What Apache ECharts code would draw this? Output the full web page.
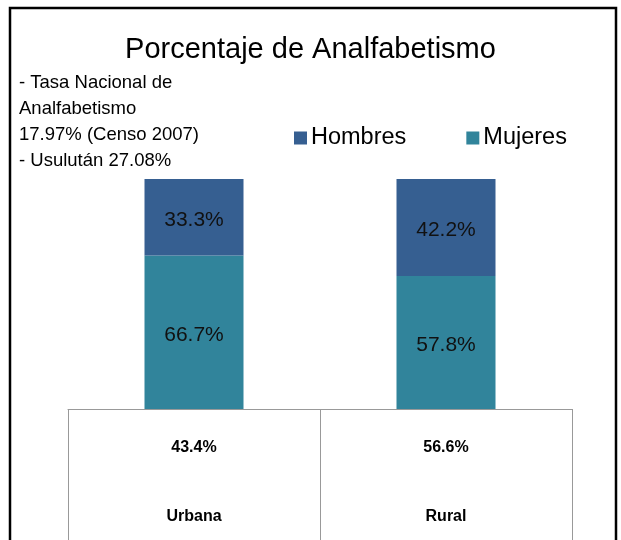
<!DOCTYPE html>
<html>
<head>
<meta charset="utf-8">
<script src="https://cdn.jsdelivr.net/npm/echarts@6/dist/echarts.min.js"></script>
<style>
  html, body { margin: 0; padding: 0; background: #fff; }
  #chart { width: 621px; height: 540px; }
</style>
</head>
<body>
<div id="chart"></div>
<script>
// datos del gráfico
const zonas = ["Urbana", "Rural"];
const hombres = [33.3, 42.2];
const mujeres = [66.7, 57.8];
const totalZona = ["43.4%", "56.6%"];
const notas = [
  "- Tasa Nacional de",
  "Analfabetismo",
  "17.97% (Censo 2007)",
  "- Usulután 27.08%"
];

const chart = echarts.init(document.getElementById("chart"));
const font = "'Liberation Sans Narrow', 'Liberation Sans', sans-serif";
const pct = (p) => p.value.toFixed(1) + "%";

const option = {
  animation: false,
  color: ["#365F91", "#31849B"],
  title: {
    text: "Porcentaje de Analfabetismo",
    left: "center",
    top: 30,
    textStyle: { fontFamily: font, fontSize: 29, fontWeight: "normal", color: "#000" }
  },
  legend: {
    data: ["Hombres", "Mujeres"],
    left: 289,
    top: 121,
    icon: "rect",
    itemWidth: 13,
    itemHeight: 13,
    itemGap: 60,
    textStyle: { fontFamily: font, fontSize: 23.5, color: "#000", padding: [0, 0, 0, -1] }
  },
  grid: { left: 68, right: 49, top: 179, bottom: 131 },
  xAxis: {
    type: "category",
    data: zonas,
    axisLine: { lineStyle: { color: "#999", width: 1 } },
    axisTick: { show: true, length: 140, lineStyle: { color: "#999" } },
    axisLabel: {
      margin: 28,
      formatter: (v, i) => "{p|" + totalZona[i] + "}\n{c|" + v + "}",
      rich: {
        p: { fontFamily: font, fontSize: 16, fontWeight: "bold", color: "#000", lineHeight: 22 },
        c: { fontFamily: font, fontSize: 16, fontWeight: "bold", color: "#000", lineHeight: 116 }
      }
    }
  },
  yAxis: { type: "value", min: 0, max: 100, show: false },
  series: [
    {
      name: "Mujeres",
      type: "bar",
      stack: "z",
      barWidth: 99,
      data: mujeres,
      itemStyle: { color: "#31849B" },
      label: { show: true, position: "inside", offset: [0, 3], formatter: pct, fontFamily: font, fontSize: 21, color: "#111" }
    },
    {
      name: "Hombres",
      type: "bar",
      stack: "z",
      barWidth: 99,
      data: hombres,
      itemStyle: { color: "#365F91" },
      label: { show: true, position: "inside", offset: [0, 3], formatter: pct, fontFamily: font, fontSize: 21, color: "#111" }
    }
  ],
  graphic: [
    {
      type: "rect",
      shape: { x: 10, y: 8, width: 606, height: 560 },
      style: { fill: "none", stroke: "#000", lineWidth: 2.5 },
      silent: true
    },
    {
      type: "text",
      left: 19,
      top: 70,
      style: {
        text: notas.join("\n"),
        fontFamily: font,
        fontSize: 18.5,
        lineHeight: 26,
        fill: "#000"
      }
    }
  ]
};

chart.setOption(option);
</script>
</body>
</html>
